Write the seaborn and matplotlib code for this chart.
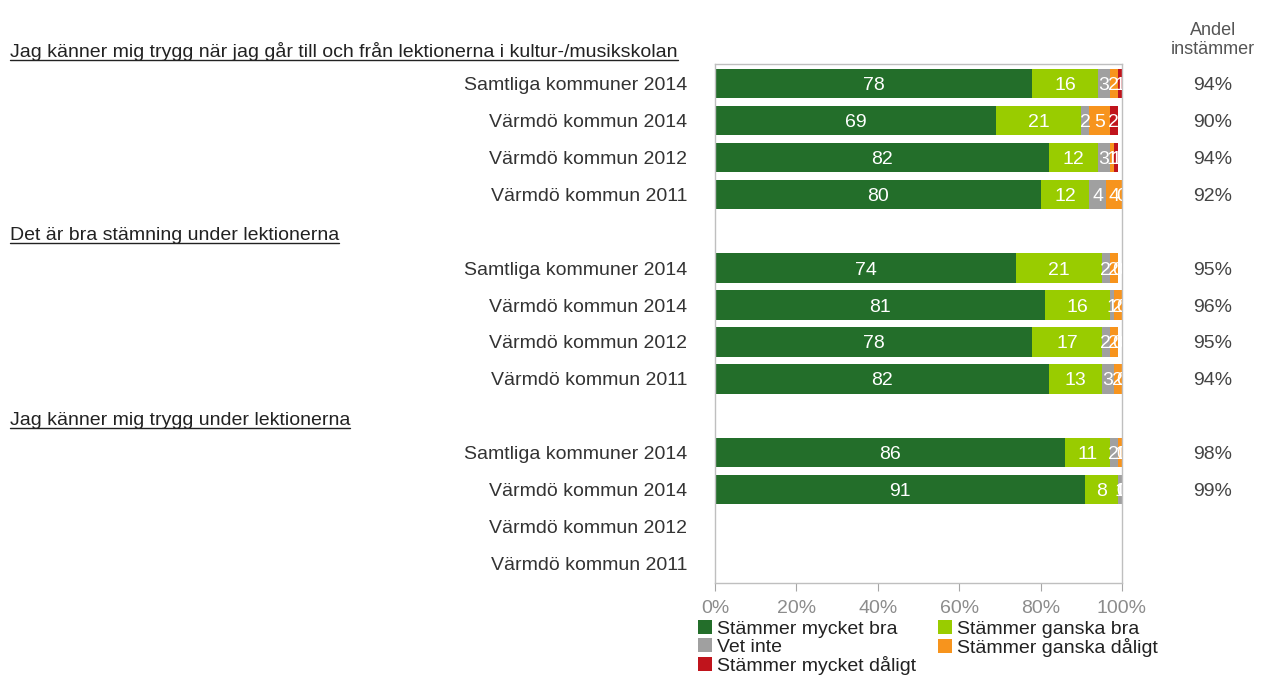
import numpy as np
import pandas as pd
import matplotlib.pyplot as plt
import seaborn as sns
from matplotlib.patches import Patch
from matplotlib.lines import Line2D
import matplotlib.transforms as mtransforms

sns.set_style("white")
plt.rcParams['font.family'] = ['Liberation Sans', 'DejaVu Sans']

# questions (group headers) and the rows under each
questions = [
    'Jag känner mig trygg när jag går till och från lektionerna i kultur-/musikskolan',
    'Det är bra stämning under lektionerna',
    'Jag känner mig trygg under lektionerna',
]
row_labels = ['Samtliga kommuner 2014', 'Värmdö kommun 2014',
              'Värmdö kommun 2012', 'Värmdö kommun 2011']

# answer categories, per group x row (nan = no data)
categories = ['Stämmer mycket bra', 'Stämmer ganska bra', 'Vet inte',
              'Stämmer ganska dåligt', 'Stämmer mycket dåligt']
mycket_bra = [78, 69, 82, 80, 74, 81, 78, 82, 86, 91, np.nan, np.nan]
ganska_bra = [16, 21, 12, 12, 21, 16, 17, 13, 11, 8, np.nan, np.nan]
vet_inte = [3, 2, 3, 4, 2, 1, 2, 3, 2, 1, np.nan, np.nan]
ganska_daligt = [2, 5, 1, 4, 2, 2, 2, 2, 1, 0, np.nan, np.nan]
mycket_daligt = [1, 2, 1, 0, 0, 0, 0, 0, 0, 0, np.nan, np.nan]
andel = [94, 90, 94, 92, 95, 96, 95, 94, 98, 99, np.nan, np.nan]

colors = ['#236E2A', '#99CC00', '#A0A0A0', '#F7941D', '#C0141C']

# build a table: one row per bar, position leaves a gap slot for each header
pos = [g * 5 + i for g in range(len(questions)) for i in range(len(row_labels))]
df = pd.DataFrame({
    'pos': pos,
    'label': row_labels * len(questions),
    categories[0]: mycket_bra,
    categories[1]: ganska_bra,
    categories[2]: vet_inte,
    categories[3]: ganska_daligt,
    categories[4]: mycket_daligt,
    'andel': andel,
})
cum = df[categories].cumsum(axis=1)
data = df.dropna(subset=[categories[0]])

fig = plt.figure(figsize=(12.64, 6.75), dpi=100)
ax = fig.add_axes([715 / 1264, 1 - 583 / 675, 407 / 1264, 519 / 675])

# stacked bars: draw widest cumulative first
for k in range(len(categories) - 1, -1, -1):
    sns.barplot(x=cum.loc[data.index, categories[k]], y=data['pos'], orient='h',
                native_scale=True, color=colors[k], width=0.8, ax=ax,
                saturation=1, edgecolor='none')

# value labels inside segments
for idx, row in data.iterrows():
    for k, c in enumerate(categories):
        v = row[c]
        center = cum.loc[idx, c] - v / 2
        ax.text(center, row['pos'], f'{int(v)}', ha='center', va='center_baseline',
                color='white', fontsize=14, clip_on=True)

ax.set_xlim(0, 100)
ax.set_ylim(13.53, -0.53)
ax.set_xticks(np.arange(0, 101, 20))
ax.set_xticklabels([f'{t}%' for t in range(0, 101, 20)], color='#8C8C8C', fontsize=14)
ax.set_yticks(df['pos'])
ax.set_yticklabels(df['label'], color='#333333', fontsize=14)
ax.tick_params(axis='y', length=0, pad=20)
ax.tick_params(axis='x', length=6, color='#A6A6A6', direction='out', pad=6, bottom=True)
ax.set_xlabel('')
ax.set_ylabel('')
for s in ax.spines.values():
    s.set_color('#BFBFBF')
    s.set_linewidth(1)

# group headers, left of the figure, underlined
trans = mtransforms.blended_transform_factory(fig.transFigure, ax.transData)
header_texts = []
for g, q in enumerate(questions):
    t = ax.text(10 / 1264, g * 5 - 1 + 0.12, q, transform=trans, ha='left',
                va='center', fontsize=14, color='#222222', clip_on=False)
    header_texts.append(t)

# share agreeing column
fig.text(1213 / 1264, 1 - 40 / 675, 'Andel\ninstämmer', ha='center', va='center',
         fontsize=13, color='#555555', linespacing=1.1)
tr_col = mtransforms.blended_transform_factory(fig.transFigure, ax.transData)
for p, a in zip(df['pos'], df['andel']):
    if not np.isnan(a):
        ax.text(1213 / 1264, p, f'{int(a)}%', transform=tr_col, ha='center',
                va='center_baseline', fontsize=14, color='#444444', clip_on=False)

# legend, filled row by row like the original
handles = [Patch(facecolor=c, edgecolor='none') for c in colors]
order = [0, 2, 4, 1, 3]
fig.legend([handles[i] for i in order], [categories[i] for i in order],
           loc='upper left', bbox_to_anchor=(698 / 1264, 1 - 620 / 675), ncol=2,
           frameon=False, fontsize=14, handlelength=0.7, handleheight=0.7,
           handletextpad=0.3, labelspacing=0.02, columnspacing=1.1,
           borderpad=0, borderaxespad=0, labelcolor='#222222')

# underline headers
fig.canvas.draw()
renderer = fig.canvas.get_renderer()
inv = fig.transFigure.inverted()
for t in header_texts:
    bb = t.get_window_extent(renderer)
    (x0, y0), (x1, y1) = inv.transform([(bb.x0, bb.y0 + 1), (bb.x1, bb.y0 + 1)])
    fig.add_artist(Line2D([x0, x1], [y0, y1], transform=fig.transFigure,
                          color='#222222', linewidth=1))

fig.savefig('out.png', dpi=100)
